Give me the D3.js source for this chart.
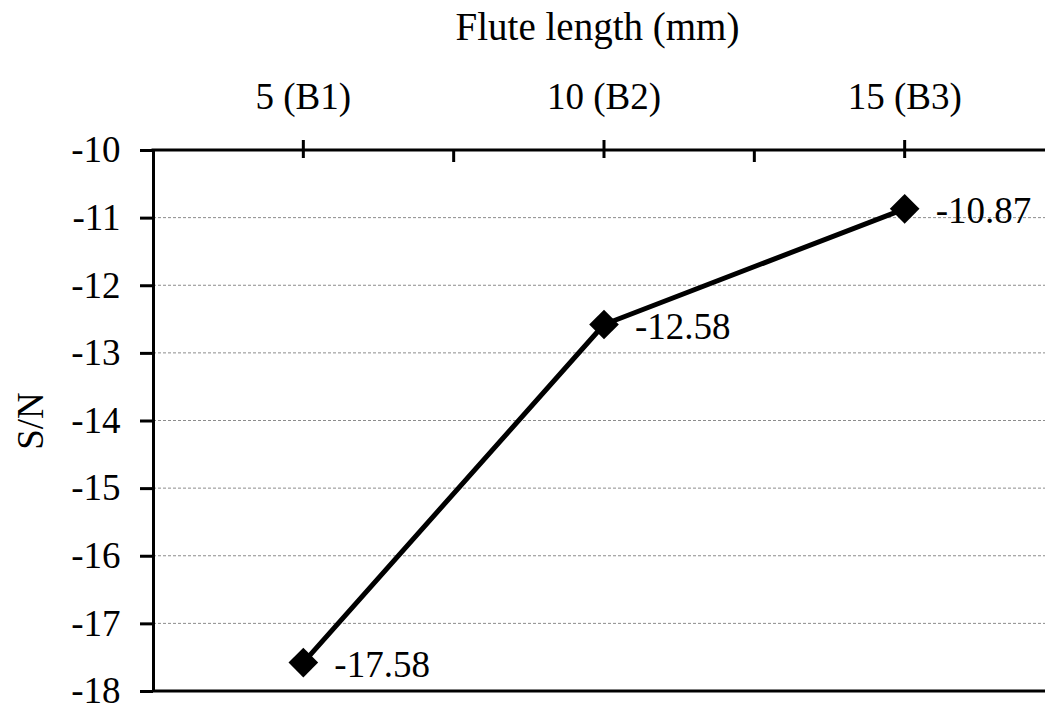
<!DOCTYPE html>
<html><head><meta charset="utf-8">
<script src="https://cdn.jsdelivr.net/npm/d3@7"></script>
<style>body{margin:0;background:#fff}svg{display:block}</style>
</head><body>
<svg id="c" width="1045" height="711"></svg>
<script>
const categories = [5, 10, 15];
const categoryLabels = ["5 (B1)", "10 (B2)", "15 (B3)"];
const snValues = [-17.58, -12.58, -10.87];
const yTicks = [-10, -11, -12, -13, -14, -15, -16, -17, -18];
const xMinorTicks = [7.5, 12.5];
const xTitle = "Flute length (mm)";
const yTitle = "S/N";

const FONT = "'Liberation Serif', 'Times New Roman', Times, serif";
const svg = d3.select("#c");
const x = d3.scaleLinear().domain([2.5, 17.5]).range([153, 1055]);
const y = d3.scaleLinear().domain([-18, -10]).range([691, 150]);

// gridlines
svg.append("g").selectAll("line").data(yTicks.filter(t => t !== -10 && t !== -18)).join("line")
  .attr("x1", x(2.5)).attr("x2", 1045).attr("y1", d => y(d)).attr("y2", d => y(d))
  .attr("stroke", "#8c8c8c").attr("stroke-width", 1).attr("stroke-dasharray", "3,2");

// bottom line
svg.append("line").attr("x1", x(2.5)).attr("x2", 1045).attr("y1", y(-18)).attr("y2", y(-18))
  .attr("stroke", "#000").attr("stroke-width", 3);

// y axis
const yAxis = d3.axisLeft(y).tickValues(yTicks).tickSize(13).tickSizeOuter(0).tickPadding(19.5).tickFormat(d => String(d));
const gy = svg.append("g").attr("transform", `translate(${x(2.5)},0)`).call(yAxis);
gy.attr("font-family", FONT).attr("font-size", 37);
gy.select(".domain").attr("stroke-width", 3);
gy.selectAll(".tick line").attr("stroke-width", 3);
gy.selectAll(".tick text").attr("dy", "0.32em").attr("fill", "#000");

// x axis at top
const gx = svg.append("g");
gx.append("line").attr("x1", x(2.5) - 1.5).attr("x2", 1045).attr("y1", y(-10)).attr("y2", y(-10))
  .attr("stroke", "#000").attr("stroke-width", 3);
gx.selectAll("line.maj").data(categories).join("line").attr("class", "maj")
  .attr("x1", d => x(d)).attr("x2", d => x(d)).attr("y1", y(-10) - 10).attr("y2", y(-10) + 8)
  .attr("stroke", "#000").attr("stroke-width", 3);
gx.selectAll("line.min").data(xMinorTicks).join("line").attr("class", "min")
  .attr("x1", d => x(d)).attr("x2", d => x(d)).attr("y1", y(-10)).attr("y2", y(-10) + 12)
  .attr("stroke", "#000").attr("stroke-width", 3);
gx.selectAll("text").data(categories).join("text")
  .attr("x", d => x(d)).attr("y", 109).attr("text-anchor", "middle")
  .attr("font-family", FONT).attr("font-size", 37)
  .text((d, i) => categoryLabels[i]);

// titles
svg.append("text").attr("x", 597.5).attr("y", 40).attr("text-anchor", "middle")
  .attr("font-family", FONT).attr("font-size", 39).text(xTitle);
svg.append("text").attr("transform", `translate(43,421) rotate(-90)`).attr("text-anchor", "middle")
  .attr("font-family", FONT).attr("font-size", 37).text(yTitle);

// line
const pts = categories.map((c, i) => [c, snValues[i]]);
svg.append("path").datum(pts)
  .attr("d", d3.line().x(d => x(d[0])).y(d => y(d[1])))
  .attr("fill", "none").attr("stroke", "#000").attr("stroke-width", 5).attr("stroke-linejoin", "round");

// markers
svg.append("g").selectAll("path").data(pts).join("path")
  .attr("transform", d => `translate(${x(d[0])},${y(d[1])})`)
  .attr("d", d3.symbol().type(d3.symbolDiamond2).size(560))
  .attr("fill", "#000");

// data labels
svg.append("g").selectAll("text").data(pts).join("text")
  .attr("x", d => x(d[0]) + 31).attr("y", d => y(d[1])).attr("dy", "0.38em")
  .attr("font-family", FONT).attr("font-size", 37).text(d => d[1].toFixed(2));
</script>
</body></html>
